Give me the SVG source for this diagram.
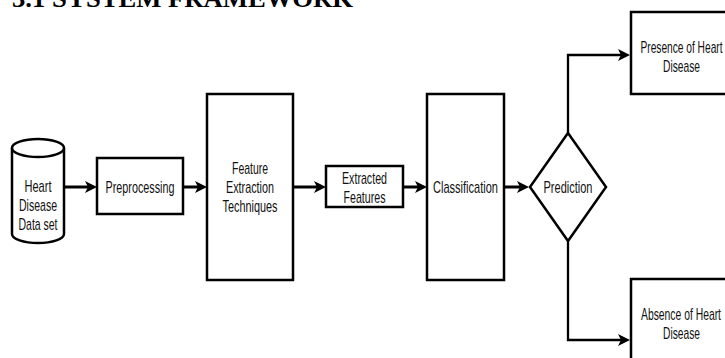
<svg xmlns="http://www.w3.org/2000/svg" width="725" height="358" viewBox="0 0 725 358">
<style>
.box{fill:#fff;stroke:#000;stroke-width:2.5}
.lbl{font-family:"Liberation Sans",Arial,sans-serif;font-size:17px;fill:#111;text-anchor:middle}
.conn{fill:none;stroke:#000;stroke-width:3}
.branch{fill:none;stroke:#000;stroke-width:2.3}
.title{font-family:"Liberation Serif","Times New Roman",serif;font-size:26px;font-weight:bold;fill:#000}
</style>
<defs>
<marker id="arr" viewBox="0 0 12 12" refX="4" refY="6" markerWidth="12" markerHeight="12" markerUnits="userSpaceOnUse" orient="auto">
<path d="M0,0 L12,6 L0,12 L3,6 z" fill="#000"/>
</marker>
</defs>
<rect width="725" height="358" fill="#fff"/>
<text class="title" x="12" y="7" textLength="341" lengthAdjust="spacingAndGlyphs">3.1 SYSTEM FRAMEWORK</text>

<g id="connectors">
<line class="conn" x1="64" y1="187" x2="89" y2="187" marker-end="url(#arr)"/>
<line class="conn" x1="183" y1="187" x2="199" y2="187" marker-end="url(#arr)"/>
<line class="conn" x1="293" y1="187" x2="318" y2="187" marker-end="url(#arr)"/>
<line class="conn" x1="403" y1="187" x2="419" y2="187" marker-end="url(#arr)"/>
<line class="conn" x1="504" y1="187" x2="521" y2="187" marker-end="url(#arr)"/>
<path class="branch" d="M568,133 V55 H622" marker-end="url(#arr)"/>
<path class="branch" d="M568,241 V340 H622" marker-end="url(#arr)"/>
</g>

<g id="dataset">
<path class="box" d="M12,148 A26,9 0 0 1 64,148 V234 A26,9 0 0 1 12,234 Z"/>
<path class="box" d="M12,148 A26,9 0 0 0 64,148" fill="none"/>
<text class="lbl" x="38" y="192" textLength="27" lengthAdjust="spacingAndGlyphs">Heart</text>
<text class="lbl" x="38" y="211" textLength="38" lengthAdjust="spacingAndGlyphs">Disease</text>
<text class="lbl" x="38" y="230" textLength="39" lengthAdjust="spacingAndGlyphs">Data set</text>
</g>

<g id="preprocessing">
<rect class="box" x="97" y="158" width="86" height="56"/>
<text class="lbl" x="140" y="193" textLength="69" lengthAdjust="spacingAndGlyphs">Preprocessing</text>
</g>

<g id="feature-extraction">
<rect class="box" x="207" y="94" width="86" height="186"/>
<text class="lbl" x="250" y="174" textLength="36" lengthAdjust="spacingAndGlyphs">Feature</text>
<text class="lbl" x="250" y="193" textLength="48" lengthAdjust="spacingAndGlyphs">Extraction</text>
<text class="lbl" x="250" y="212" textLength="55" lengthAdjust="spacingAndGlyphs">Techniques</text>
</g>

<g id="extracted-features">
<rect class="box" x="326" y="166" width="77" height="41"/>
<text class="lbl" x="364.5" y="184" textLength="45" lengthAdjust="spacingAndGlyphs">Extracted</text>
<text class="lbl" x="364.5" y="203" textLength="42" lengthAdjust="spacingAndGlyphs">Features</text>
</g>

<g id="classification">
<rect class="box" x="427" y="94" width="77" height="186"/>
<text class="lbl" x="465.5" y="193" textLength="65" lengthAdjust="spacingAndGlyphs">Classification</text>
</g>

<g id="prediction">
<polygon class="box" points="568,133 606,187 568,241 530,187"/>
<text class="lbl" x="568" y="193" textLength="49" lengthAdjust="spacingAndGlyphs">Prediction</text>
</g>

<g id="presence">
<rect class="box" x="631" y="12" width="102" height="82"/>
<text class="lbl" x="681.5" y="53" textLength="82" lengthAdjust="spacingAndGlyphs">Presence of Heart</text>
<text class="lbl" x="681.5" y="72" textLength="37" lengthAdjust="spacingAndGlyphs">Disease</text>
</g>

<g id="absence">
<rect class="box" x="631" y="279" width="102" height="90"/>
<text class="lbl" x="681" y="320" textLength="80" lengthAdjust="spacingAndGlyphs">Absence of Heart</text>
<text class="lbl" x="681.5" y="339" textLength="37" lengthAdjust="spacingAndGlyphs">Disease</text>
</g>
</svg>
